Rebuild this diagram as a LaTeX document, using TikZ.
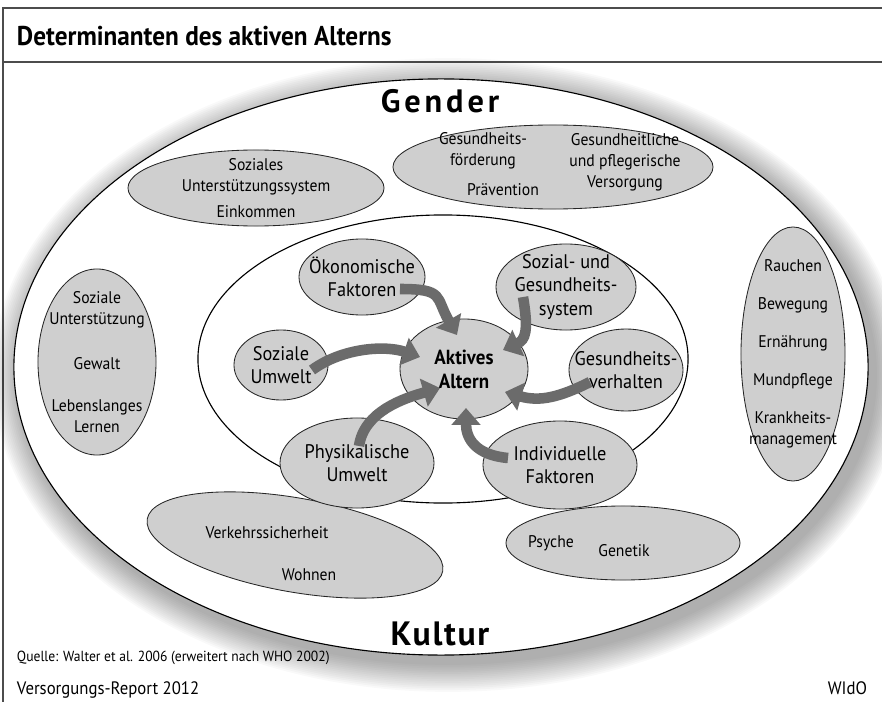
\documentclass[tikz,border=0pt]{standalone}
\usepackage{fontspec}
\setmainfont{PT Sans}[FakeStretch=0.93]
\newfontfamily\sperrfont[LetterSpace=12]{PT Sans}
\newfontfamily\kulturfont[LetterSpace=5]{PT Sans}
\usetikzlibrary{arrows.meta,shapes.geometric}

\tikzset{
  blob/.style={ellipse,draw=black!85,fill=black!19,line width=.6pt,inner sep=-30pt,align=center},
  kern/.style={blob,font=\fontsize{14}{16.5}\selectfont},
  rand/.style={blob,font=\fontsize{12}{15}\selectfont},
  txt/.style={font=\fontsize{12}{15}\selectfont,align=center,inner sep=0pt},
  ring/.style={ellipse,draw,line width=.8pt,fill=white,inner sep=0pt},
  wirkt/.style={line width=7.5pt,draw=black!58,-{Triangle[width=20pt,length=12pt]}},
}

\begin{document}
\begin{tikzpicture}[x=.025cm,y=-.025cm]
  \useasboundingbox (0,0) rectangle (882,702);
  % Rahmen und Titel
  \draw[line width=1pt,black!70] (882,8) -- (3,8) -- (3,702);
  \draw[line width=1pt,black!70] (3,62) -- (882,62);
  \node[anchor=base west,font=\bfseries\fontsize{19.3}{21}\selectfont] (titel) at (12,46) {Determinanten des aktiven Alterns};

  % Schatten und Ringe
  \foreach \i in {1,...,16}
    \fill[black,opacity=.025] (448,375) ellipse [x radius=10.675cm+\i*.45mm, y radius=7.2cm+\i*.45mm];
  \node[ring,minimum width=21.35cm,minimum height=14.4cm] (aussen) at (441,367) {};
  \node[ring,minimum width=12.25cm,minimum height=7.2cm] (innen) at (443,359) {};
  \node[font=\sperrfont\bfseries\fontsize{23}{25}\selectfont] (gender) at (440,101) {Gender};
  \node[font=\kulturfont\bfseries\fontsize{24}{26}\selectfont] (kultur) at (440,634) {Kultur};

  % aeusserer Ring
  \node[rand,minimum width=6.4cm,minimum height=1.9cm] (sus) at (256,188) {Soziales\\Unterstützungssystem\\[4pt]Einkommen};
  \node[rand,minimum width=8cm,minimum height=2.1cm] (gfoe) at (553,167) {};
  \node[txt] (foerd) at (483,151) {Gesundheits-\\förderung};
  \node[txt] (praev) at (503,190) {Prävention};
  \node[txt] (versorg) at (625,162) {Gesundheitliche\\und pflegerische\\Versorgung};
  \node[rand,minimum width=2.95cm,minimum height=4.65cm] (szu) at (97,362) {Soziale\\Unterstützung\\[17pt]Gewalt\\[15pt]Lebenslanges\\Lernen};
  \node[rand,minimum width=2.6cm,minimum height=6.35cm] (rauch) at (793,354) {Rauchen\\[12pt]Bewegung\\[12pt]Ernährung\\[12pt]Mundpflege\\[12pt]Krankheits-\\management};
  \node[rand,rotate=-10,minimum width=7.5cm,minimum height=2.35cm] (verk) at (295,545) {};
  \node[txt] (verktxt) at (267,533) {Verkehrssicherheit};
  \node[txt] (wohnen) at (309,575) {Wohnen};
  \node[rand,minimum width=5.85cm,minimum height=1.85cm] (psy) at (623,543) {};
  \node[txt] (psyche) at (551,543) {Psyche};
  \node[txt] (genetik) at (624,551) {Genetik};

  % innerer Ring
  \node[kern,minimum width=3.2cm,minimum height=2.5cm,font=\bfseries\fontsize{14.5}{17}\selectfont] (aktiv) at (464,369) {Aktives\\Altern};
  \node[kern,minimum width=3.15cm,minimum height=1.9cm] (oekon) at (362,277) {Ökonomische\\Faktoren};
  \node[kern,minimum width=3.5cm,minimum height=2.15cm] (sgs) at (566,287) {Sozial- und\\Gesundheits-\\system};
  \node[kern,minimum width=2.35cm,minimum height=1.75cm] (sozu) at (281,365) {Soziale\\Umwelt};
  \node[kern,minimum width=2.85cm,minimum height=2.05cm] (gesv) at (626,370) {Gesundheits-\\verhalten};
  \node[kern,minimum width=3.85cm,minimum height=2.25cm] (phys) at (357,463) {Physikalische\\Umwelt};
  \node[kern,minimum width=3.85cm,minimum height=2.2cm] (indiv) at (560,465) {Individuelle\\Faktoren};

  % Pfeile
  \draw[wirkt] ([shift={(38,12)}]oekon.center) .. controls +(45,0) and +(-22,-38) .. ([shift={(-7,-34)}]aktiv.center);
  \draw[wirkt] ([shift={(-43,10)}]sgs.center) .. controls +(6,35) and +(22,-10) .. ([shift={(39,-19)}]aktiv.center);
  \draw[wirkt] ([shift={(31,5)}]sozu.center) .. controls +(30,-22) and +(-35,-12) .. ([shift={(-44,-12)}]aktiv.center);
  \draw[wirkt] ([shift={(-36,12)}]gesv.center) .. controls +(-30,15) and +(35,10) .. ([shift={(41,23)}]aktiv.center);
  \draw[wirkt] ([shift={(2,-17)}]phys.center) .. controls +(5,-35) and +(-35,10) .. ([shift={(-24,19)}]aktiv.center);
  \draw[wirkt] ([shift={(-52,-7)}]indiv.center) .. controls +(-33,-3) and +(0,30) .. ([shift={(2,39)}]aktiv.center);

  % Quelle
  \node[anchor=base west,font=\fontsize{10.4}{12}\selectfont] (quelle) at (12,661) {Quelle: Walter et al. 2006 (erweitert nach WHO 2002)};
  \node[anchor=base west,font=\fontsize{12.8}{14}\selectfont] (report) at (12,694) {Versorgungs-Report 2012};
  \node[anchor=base east,font=\fontsize{12.8}{14}\selectfont] (wido) at (872,694) {WIdO};
\end{tikzpicture}
\end{document}
